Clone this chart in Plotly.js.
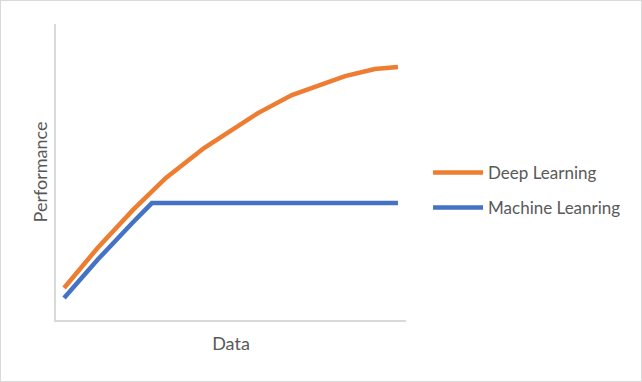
<!DOCTYPE html>
<html>
<head>
<meta charset="utf-8">
<script src="https://cdn.plot.ly/plotly-3.0.1.min.js"></script>
<style>
  html, body { margin: 0; padding: 0; background: #fff; }
  #chart { width: 640px; height: 380px; border: 1px solid #d9d9d9; }
</style>
</head>
<body>
<div id="chart"></div>
<script>
// Data (arbitrary units: x 0-10, y 0-100)
const deepX = [0.23, 1.2, 2.2, 3.14, 4.23, 5.77, 6.74, 8.26, 9.11, 9.77];
const deepY = [10.8, 24.5, 37.2, 48.0, 58.1, 69.9, 76.0, 82.4, 84.8, 85.5];
const mlX = [0.23, 1.2, 2.2, 2.74, 9.77];
const mlY = [7.4, 20.5, 33.0, 39.5, 39.5];
const seriesNames = ["Deep Learning", "Machine Leanring"];
const xTitle = "Data";
const yTitle = "Performance";

const font = "Lato, Carlito, 'Open Sans', sans-serif";
const textColor = "#595959";

const traces = [
  {x: deepX, y: deepY, name: seriesNames[0], mode: "lines", type: "scatter",
   line: {color: "#ED7D31", width: 4.5}, legendgroup: "a"},
  {x: mlX, y: mlY, name: seriesNames[1], mode: "lines", type: "scatter",
   line: {color: "#4472C4", width: 4.5}, legendgroup: "b"}
];

const layout = {
  width: 640, height: 380,
  margin: {l: 55, r: 235, t: 23, b: 61, pad: 0},
  paper_bgcolor: "#ffffff", plot_bgcolor: "#ffffff",
  font: {family: font, color: textColor, size: 17},
  showlegend: true,
  legend: {x: 1.063, y: 0.438, xanchor: "left", yanchor: "middle",
           itemwidth: 50,
           font: {family: font, size: 17, color: textColor},
           traceorder: "grouped", tracegroupgap: 10, bgcolor: "rgba(0,0,0,0)"},
  xaxis: {range: [0, 10], showline: true, linecolor: "#d9d9d9", linewidth: 2,
          showgrid: false, zeroline: false, showticklabels: false, ticks: "",
          fixedrange: true,
          title: {text: xTitle, font: {family: font, size: 18, color: textColor}, standoff: 16}},
  yaxis: {range: [0, 100], showline: true, linecolor: "#d9d9d9", linewidth: 2,
          showgrid: false, zeroline: false, showticklabels: false, ticks: "",
          fixedrange: true,
          title: {text: yTitle, font: {family: font, size: 18, color: textColor}, standoff: 2}}
};

Plotly.newPlot("chart", traces, layout, {staticPlot: true, displayModeBar: false});
</script>
</body>
</html>
